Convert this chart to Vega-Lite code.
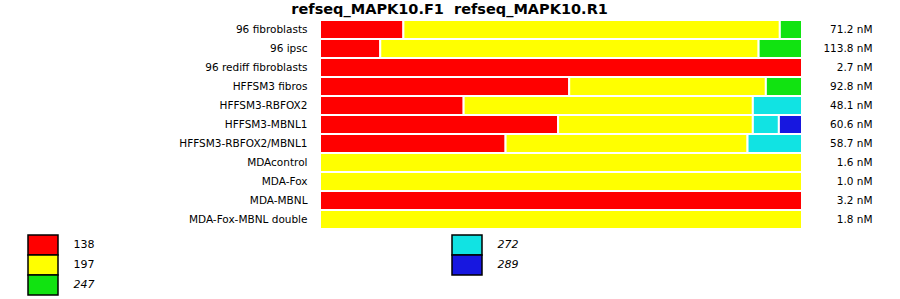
{
  "$schema": "https://vega.github.io/schema/vega-lite/v6.json",
  "background": "white",
  "padding": {"left": 27, "top": 1, "right": 5, "bottom": 0},
  "title": {"text": "refseq_MAPK10.F1\u00a0\u00a0refseq_MAPK10.R1", "font": "DejaVu Sans", "fontSize": 14.5, "fontWeight": "bold", "color": "#000000", "anchor": "middle", "offset": 2},
  "config": {"view": {"stroke": null}, "font": "DejaVu Sans"},
  "datasets": {
    "segments": [
      {"sample": "96 fibroblasts", "conc": "71.2 nM", "allele": "138", "pct": 17.3},
      {"sample": "96 fibroblasts", "conc": "71.2 nM", "allele": "197", "pct": 78.1},
      {"sample": "96 fibroblasts", "conc": "71.2 nM", "allele": "247", "pct": 4.6},
      {"sample": "96 ipsc", "conc": "113.8 nM", "allele": "138", "pct": 12.5},
      {"sample": "96 ipsc", "conc": "113.8 nM", "allele": "197", "pct": 78.5},
      {"sample": "96 ipsc", "conc": "113.8 nM", "allele": "247", "pct": 9.0},
      {"sample": "96 rediff fibroblasts", "conc": "2.7 nM", "allele": "138", "pct": 100},
      {"sample": "HFFSM3 fibros", "conc": "92.8 nM", "allele": "138", "pct": 51.7},
      {"sample": "HFFSM3 fibros", "conc": "92.8 nM", "allele": "197", "pct": 40.8},
      {"sample": "HFFSM3 fibros", "conc": "92.8 nM", "allele": "247", "pct": 7.5},
      {"sample": "HFFSM3-RBFOX2", "conc": "48.1 nM", "allele": "138", "pct": 29.8},
      {"sample": "HFFSM3-RBFOX2", "conc": "48.1 nM", "allele": "197", "pct": 60.0},
      {"sample": "HFFSM3-RBFOX2", "conc": "48.1 nM", "allele": "272", "pct": 10.2},
      {"sample": "HFFSM3-MBNL1", "conc": "60.6 nM", "allele": "138", "pct": 49.4},
      {"sample": "HFFSM3-MBNL1", "conc": "60.6 nM", "allele": "197", "pct": 40.4},
      {"sample": "HFFSM3-MBNL1", "conc": "60.6 nM", "allele": "272", "pct": 5.4},
      {"sample": "HFFSM3-MBNL1", "conc": "60.6 nM", "allele": "289", "pct": 4.8},
      {"sample": "HFFSM3-RBFOX2/MBNL1", "conc": "58.7 nM", "allele": "138", "pct": 38.5},
      {"sample": "HFFSM3-RBFOX2/MBNL1", "conc": "58.7 nM", "allele": "197", "pct": 50.2},
      {"sample": "HFFSM3-RBFOX2/MBNL1", "conc": "58.7 nM", "allele": "272", "pct": 11.3},
      {"sample": "MDAcontrol", "conc": "1.6 nM", "allele": "197", "pct": 100},
      {"sample": "MDA-Fox", "conc": "1.0 nM", "allele": "197", "pct": 100},
      {"sample": "MDA-MBNL", "conc": "3.2 nM", "allele": "138", "pct": 100},
      {"sample": "MDA-Fox-MBNL double", "conc": "1.8 nM", "allele": "197", "pct": 100}
    ],
    "legend": [
      {"allele": "138"},
      {"allele": "197"},
      {"allele": "247"},
      {"allele": "272"},
      {"allele": "289"}
    ]
  },
  "spacing": 4,
  "vconcat": [
    {
      "spacing": 12,
      "resolve": {"scale": {"y": "independent"}},
      "hconcat": [
        {
          "width": 279,
          "height": 209,
          "data": {"name": "segments"},
          "mark": {"type": "point", "opacity": 0},
          "encoding": {
            "y": {"field": "sample", "type": "nominal", "sort": null,
              "axis": {"orient": "right", "title": null, "ticks": false, "domain": false, "labelAlign": "right", "labelPadding": 0, "labelFontSize": 10.5, "labelColor": "#000000", "labelFont": "DejaVu Sans"}}
          }
        },
        {
          "width": 482,
          "height": 209,
          "data": {"name": "segments"},
          "layer": [
            {
              "mark": {"type": "bar", "stroke": "white", "strokeWidth": 2},
              "encoding": {
                "y": {"field": "sample", "type": "nominal", "sort": null,
                  "scale": {"paddingInner": 0, "paddingOuter": 0},
                  "axis": null},
                "x": {"field": "pct", "type": "quantitative", "stack": "zero", "scale": {"domain": [0, 100], "nice": false}, "axis": null},
                "color": {"field": "allele", "type": "nominal",
                  "scale": {"domain": ["138", "197", "247", "272", "289"], "range": ["#ff0000", "#ffff00", "#11e311", "#11e3e3", "#1717e0"]},
                  "legend": null}
              }
            },
            {
              "mark": {"type": "point", "opacity": 0},
              "encoding": {
                "y": {"field": "conc", "type": "nominal", "sort": null,
                  "axis": {"orient": "right", "title": null, "ticks": false, "domain": false, "labelAlign": "right", "labelPadding": 70, "labelFontSize": 10.5, "labelColor": "#000000", "labelFont": "DejaVu Sans"}}
              }
            }
          ],
          "resolve": {"scale": {"y": "independent"}}
        }
      ]
    },
    {
      "spacing": 353,
      "resolve": {"scale": {"y": "independent"}},
      "hconcat": [
        {
          "data": {"name": "legend"},
          "transform": [{"filter": {"field": "allele", "oneOf": ["138", "197", "247"]}}],
          "width": 30,
          "height": 60,
          "mark": {"type": "rect", "stroke": "#000000", "strokeWidth": 1.5},
          "encoding": {
            "y": {"field": "allele", "type": "nominal", "sort": null,
              "scale": {"paddingInner": 0, "paddingOuter": 0},
              "axis": {"orient": "right", "title": null, "ticks": false, "domain": false, "labelPadding": 15, "labelFontSize": 11, "labelColor": "#000000", "labelFont": "DejaVu Sans", "minExtent": 40, "maxExtent": 40,
                "labelFontStyle": {"condition": {"test": "datum.value == '138' || datum.value == '197'", "value": "normal"}, "value": "italic"}}},
            "color": {"field": "allele", "type": "nominal", "legend": null}
          }
        },
        {
          "data": {"name": "legend"},
          "transform": [{"filter": {"field": "allele", "oneOf": ["272", "289"]}}],
          "width": 30,
          "height": 40,
          "mark": {"type": "rect", "stroke": "#000000", "strokeWidth": 1.5},
          "encoding": {
            "y": {"field": "allele", "type": "nominal", "sort": null,
              "scale": {"paddingInner": 0, "paddingOuter": 0},
              "axis": {"orient": "right", "title": null, "ticks": false, "domain": false, "labelPadding": 15, "labelFontSize": 11, "labelColor": "#000000", "labelFont": "DejaVu Sans", "minExtent": 40, "maxExtent": 40, "labelFontStyle": "italic"}},
            "color": {"field": "allele", "type": "nominal", "legend": null}
          }
        }
      ]
    }
  ]
}
